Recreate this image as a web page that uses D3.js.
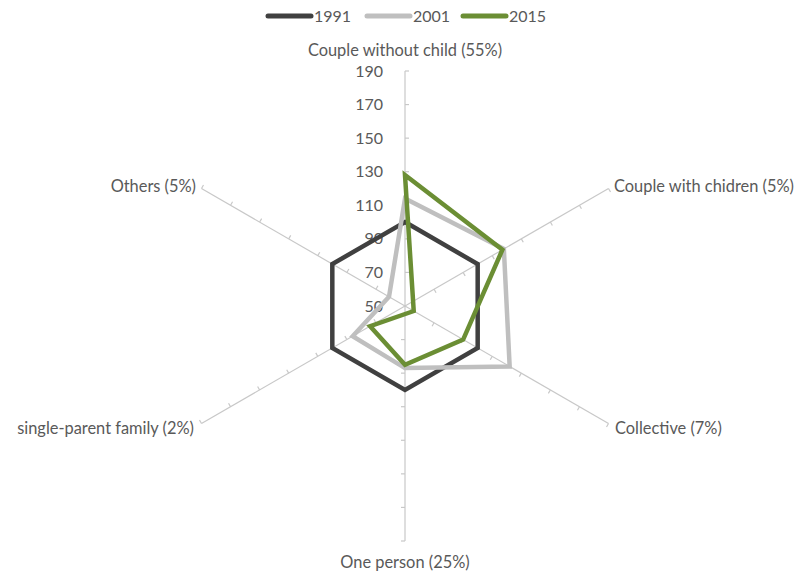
<!DOCTYPE html>
<html><head><meta charset="utf-8">
<script src="https://cdn.jsdelivr.net/npm/d3@7"></script>
<style>body{margin:0;background:#fff}svg{display:block}text{font-family:Lato,"Open Sans",sans-serif;fill:#595959}</style>
</head><body><svg id="c" width="803" height="576"></svg>
<script>
const categories = ["Couple without child (55%)","Couple with chidren (5%)","Collective (7%)","One person (25%)","single-parent family (2%)","Others (5%)"];
const seriesNames = ["1991","2001","2015"];
const values1991 = [100,100,100,100,100,100];
const values2001 = [114,118,122,87,86,61];
const values2015 = [128,117,90,85,74,44];
const tickValues = [50,70,90,110,130,150,170,190];
const colors = ["#404040","#bfbfbf","#6b8e34"];

const svg = d3.select("#c");
const cx = 405, cy = 306, R = 235;
const r = d3.scaleLinear().domain([50,190]).range([0,R]);
const angle = d3.scaleLinear().domain([0,categories.length]).range([0,2*Math.PI]);
const pt = (i,v) => { const a = angle(i); return [cx + r(v)*Math.sin(a), cy - r(v)*Math.cos(a)]; };

// spokes
const g = svg.append("g");
categories.forEach((c,i)=>{
  const [x2,y2] = pt(i,190);
  g.append("line").attr("x1",cx).attr("y1",cy).attr("x2",x2).attr("y2",y2)
    .attr("stroke","#c8c8c8").attr("stroke-width",1.2);
  const a = angle(i);
  tickValues.slice(1).forEach(t=>{
    const [x,y] = pt(i,t);
    const px = Math.cos(a), py = Math.sin(a);
    g.append("line").attr("x1",x).attr("y1",y).attr("x2",x+px*4).attr("y2",y+py*4)
      .attr("stroke","#c8c8c8").attr("stroke-width",1.2);
  });
});

// tick labels
tickValues.forEach(t=>{
  svg.append("text").attr("x",cx-22).attr("y",cy - r(t)).attr("dy","0.35em")
    .attr("text-anchor","end").attr("font-size",16).text(t);
});

// category labels
const labelPos = [
  {x:cx, y:50, anchor:"middle"},
  {x:614, y:186, anchor:"start"},
  {x:615, y:428, anchor:"start"},
  {x:cx, y:562, anchor:"middle"},
  {x:194, y:428, anchor:"end"},
  {x:196, y:186, anchor:"end"}
];
categories.forEach((c,i)=>{
  svg.append("text").attr("x",labelPos[i].x).attr("y",labelPos[i].y).attr("dy","0.35em")
    .attr("text-anchor",labelPos[i].anchor).attr("font-size",16.4).text(c);
});

// series
const line = d3.line().curve(d3.curveLinearClosed);
[values1991,values2001,values2015].forEach((vals,k)=>{
  svg.append("path").attr("d", line(vals.map((v,i)=>pt(i,v))))
    .attr("fill","none").attr("stroke",colors[k]).attr("stroke-width",4.5)
    .attr("stroke-linejoin","miter");
});

// legend
const legX = [268,367,463];
seriesNames.forEach((s,k)=>{
  svg.append("line").attr("x1",legX[k]).attr("x2",legX[k]+43).attr("y1",16).attr("y2",16)
    .attr("stroke",colors[k]).attr("stroke-width",5).attr("stroke-linecap","round");
  svg.append("text").attr("x",legX[k]+46).attr("y",16).attr("dy","0.35em").attr("font-size",16).text(s);
});
</script></body></html>
